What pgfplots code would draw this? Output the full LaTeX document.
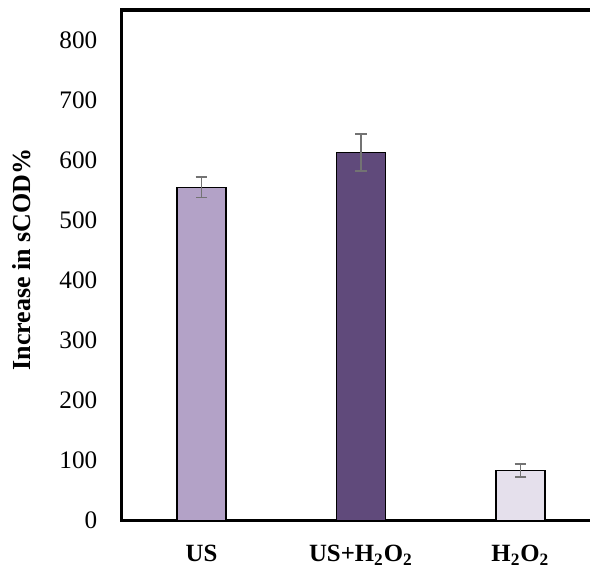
\documentclass[border=0pt]{standalone}
\usepackage{pgfplots}
\pgfplotsset{compat=1.18}
\usepackage{fontspec}
\setmainfont{Liberation Serif}

\definecolor{usbar}{HTML}{B3A2C7}
\definecolor{usperox}{HTML}{604A7B}
\definecolor{perox}{HTML}{E5E0EC}
\definecolor{errgray}{RGB}{115,115,115}

\pgfplotsset{
  errstyle/.style={
    error bars/y dir=both,
    error bars/y explicit,
    error bars/error bar style={line width=0.8pt, draw=errgray},
    error bars/error mark options={rotate=90, mark size=2.9pt, line width=0.8pt, draw=errgray},
  },
}

\begin{document}
\begin{tikzpicture}
\begin{axis}[
  name=ax,
  scale only axis,
  width=234.15pt, height=255.1pt,
  xmin=-0.5, xmax=2.436,
  ymin=0, ymax=850,
  axis x line*=box, axis y line*=left,
  axis line style={-, line width=1.8pt, line cap=rect, black},
  every outer x axis line/.append style={-},
  every outer y axis line/.append style={-},
  ybar, bar width=24.5pt, bar shift=0pt,
  xtick={0,1,2},
  xticklabels={US, US+H\textsubscript{2}O\textsubscript{2}, H\textsubscript{2}O\textsubscript{2}},
  ytick={0,100,...,800},
  major tick length=0pt,
  /pgf/number format/assume math mode=true,
  tick label style={font=\fontsize{12.6}{15}\selectfont},
  xticklabel style={font=\fontsize{12.4}{15}\selectfont\bfseries, anchor=base, yshift=-20.75pt},
  yticklabel style={anchor=east, inner sep=0pt, xshift=-12pt},
  ylabel={\textbf{Increase in sCOD\%}},
  every axis y label/.style={at={(axis description cs:0,0.5)}, xshift=-50pt, yshift=3pt, rotate=90, anchor=center, font=\fontsize{13}{15}\selectfont},
]
% sonication alone
\addplot[fill=usbar, draw=black, line width=0.75pt, errstyle] coordinates {(0,555) +- (0,17)};
% sonication combined with hydrogen peroxide
\addplot[fill=usperox, draw=black, line width=0.75pt, errstyle] coordinates {(1,613) +- (0,31)};
% hydrogen peroxide alone
\addplot[fill=perox, draw=black, line width=0.75pt, errstyle] coordinates {(2,83) +- (0,11)};
\end{axis}
\pgfresetboundingbox
\path[use as bounding box] ([shift={(-60.85pt,-23.25pt)}]ax.south west) rectangle ([shift={(0pt,5.15pt)}]ax.north east);
\end{tikzpicture}
\end{document}
